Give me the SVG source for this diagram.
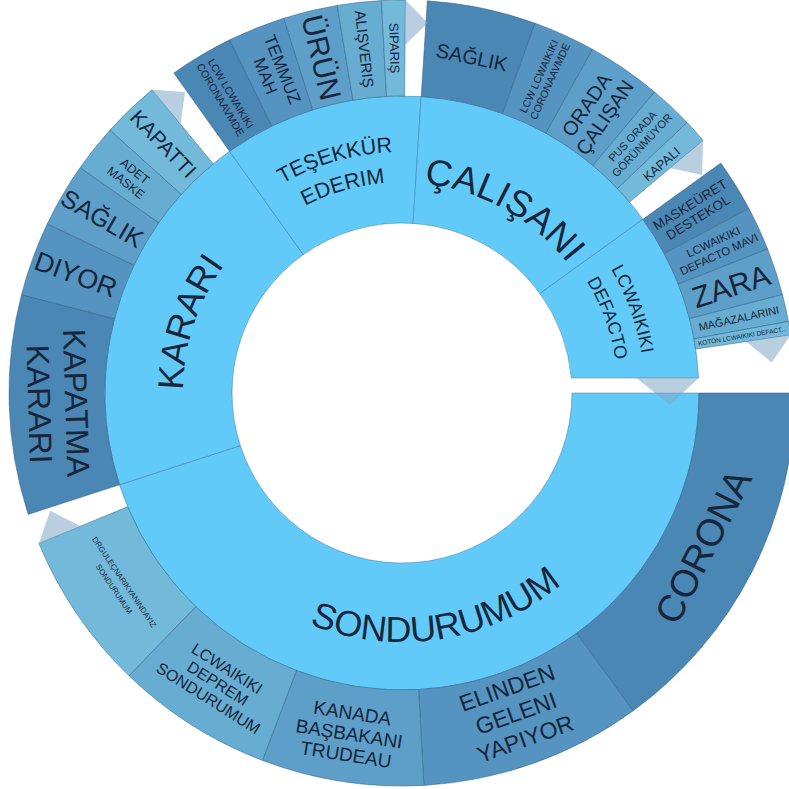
<svg xmlns="http://www.w3.org/2000/svg" width="789" height="789" viewBox="0 0 789 789">
<defs>
<style>
.in{fill:#62caf8;stroke:#2f6f99;stroke-opacity:.45;stroke-width:1}
.p1{fill:#4b87b4;stroke:#2f5f85;stroke-opacity:.5;stroke-width:1}
.p2{fill:#5593c0;stroke:#2f5f85;stroke-opacity:.5;stroke-width:1}
.p3{fill:#5d9fc8;stroke:#2f5f85;stroke-opacity:.5;stroke-width:1}
.p4{fill:#67acd1;stroke:#2f5f85;stroke-opacity:.5;stroke-width:1}
.p5{fill:#73b9da;stroke:#2f5f85;stroke-opacity:.5;stroke-width:1}
.tip{fill:#7fa7c6;fill-opacity:.55}
text{font-family:"Liberation Sans",Arial,sans-serif;fill:#17263a;text-anchor:middle}
</style>
<path id="aKarari" d="M 298.3,585.9 A 219 219 0 0 1 433.4,176.3"/>
<path id="aTes1" d="M 162.3,418.2 A 241 241 0 0 1 618.6,287.3"/>
<path id="aTes2" d="M 192.2,415 A 211 211 0 0 1 591.6,300.5"/>
<path id="aCal" d="M 238.8,260.8 A 210 210 0 0 1 600.6,461.4"/>
<path id="aLcw1" d="M 359.8,153.7 A 243 243 0 0 1 523.5,603.4"/>
<path id="aLcw2" d="M 364.5,180.3 A 216 216 0 0 1 510,580.1"/>
<path id="aSon" d="M 166.6,474.1 A 249 249 0 0 0 651,397.3"/>
</defs>
<rect width="789" height="789" fill="#ffffff"/>

<g id="sondurumum">
<path class="in" d="M 572,393 A 170 170 0 0 1 240.3,445.5 L 119.5,484.8 A 297 297 0 0 0 699,393 Z"/>
<text font-size="36"><textPath href="#aSon" startOffset="50%">SONDURUMUM</textPath></text>
</g>
<g id="karari">
<path class="in" d="M 240.3,445.5 A 170 170 0 0 1 303.3,254.6 L 229.5,151.2 A 297 297 0 0 0 119.5,484.8 Z"/>
<text font-size="36"><textPath href="#aKarari" startOffset="50%">KARARI</textPath></text>
</g>
<g id="tesekkur">
<path class="in" d="M 303.3,254.6 A 170 170 0 0 1 413,223.4 L 421.2,96.6 A 297 297 0 0 0 229.5,151.2 Z"/>
<text font-size="21.5"><textPath href="#aTes1" startOffset="50%">TEŞEKKÜR</textPath><textPath href="#aTes2" startOffset="50%">EDERIM</textPath></text>
</g>
<g id="calisani">
<path class="in" d="M 413,223.4 A 170 170 0 0 1 539.9,293.5 L 642.9,219.3 A 297 297 0 0 0 421.2,96.6 Z"/>
<text font-size="37"><textPath href="#aCal" startOffset="50%">ÇALIŞANI</textPath></text>
</g>
<g id="lcwaikiki-defacto">
<path class="in" d="M 539.9,293.5 A 170 170 0 0 1 571.3,378 L 698.6,378 A 297 297 0 0 0 642.9,219.3 Z"/>
<text font-size="18"><textPath href="#aLcw1" startOffset="50%">LCWAIKIKI</textPath><textPath href="#aLcw2" startOffset="50%">DEFACTO</textPath></text>
</g>

<!-- Sondurumum children -->
<g id="corona">
<path class="p1" d="M 699,393 A 297 297 0 0 1 576.6,633.3 L 633,710.9 A 393 393 0 0 0 795,393 Z"/>
<text font-size="38" transform="translate(703.2,546.5) rotate(-63)" y="13">CORONA</text>
</g>
<g id="elinden">
<path class="p2" d="M 576.6,633.3 A 297 297 0 0 1 418.6,689.5 L 423.9,785.4 A 393 393 0 0 0 633,710.9 Z"/>
<text font-size="23" transform="translate(516.1,713.3) rotate(-19.6)"><tspan x="0" y="-19">ELINDEN</tspan><tspan x="0" y="8">GELENI</tspan><tspan x="0" y="35">YAPIYOR</tspan></text>
</g>
<g id="kanada">
<path class="p3" d="M 418.6,689.5 A 297 297 0 0 1 296.5,670.6 L 262.4,760.4 A 393 393 0 0 0 423.9,785.4 Z"/>
<text font-size="19" transform="translate(349.2,733.9) rotate(8.8)"><tspan x="0" y="-14.5">KANADA</tspan><tspan x="0" y="6.5">BAŞBAKANI</tspan><tspan x="0" y="27.5">TRUDEAU</tspan></text>
</g>
<g id="lcw-deprem">
<path class="p4" d="M 296.5,670.6 A 297 297 0 0 1 195.7,606.6 L 129,675.7 A 393 393 0 0 0 262.4,760.4 Z"/>
<text font-size="16" transform="translate(217.7,683.4) rotate(32.4)"><tspan x="0" y="-12">LCWAIKIKI</tspan><tspan x="0" y="5.5">DEPREM</tspan><tspan x="0" y="23">SONDURUMUM</tspan></text>
</g>
<g id="drgulec">
<path class="p5" d="M 195.7,606.6 A 297 297 0 0 1 127.6,506.7 L 38.9,543.4 A 393 393 0 0 0 129,675.7 Z"/>
<text font-size="7.8" transform="translate(119.3,585.5) rotate(55.75)"><tspan x="0" y="-3.3">DRGULEÇNARIKYANINDAYIZ</tspan><tspan x="0" y="9">SONDURUMUM</tspan></text>
</g>

<!-- Karari children -->
<g id="kapatma-karari">
<path class="p1" d="M 119.5,484.8 A 297 297 0 0 1 114.5,318.6 L 21.5,294.6 A 393 393 0 0 0 28.2,514.4 Z"/>
<text font-size="32" transform="translate(58.2,403.5) rotate(88.25)"><tspan x="0" y="-7">KAPATMA</tspan><tspan x="0" y="30">KARARI</tspan></text>
</g>
<g id="diyor">
<path class="p2" d="M 114.5,318.6 A 297 297 0 0 1 133.9,265.1 L 47.3,223.8 A 393 393 0 0 0 21.5,294.6 Z"/>
<text font-size="27" transform="translate(75.9,274.3) rotate(20)" y="9.5">DIYOR</text>
</g>
<g id="saglik-1">
<path class="p3" d="M 133.9,265.1 A 297 297 0 0 1 158.7,222.6 L 80.1,167.6 A 393 393 0 0 0 47.3,223.8 Z"/>
<text font-size="25" transform="translate(102.3,218.2) rotate(30.25)" y="9">SAĞLIK</text>
</g>
<g id="adet-maske">
<path class="p4" d="M 158.7,222.6 A 297 297 0 0 1 181.3,194.3 L 110,130 A 393 393 0 0 0 80.1,167.6 Z"/>
<text font-size="12.5" transform="translate(130.4,177) rotate(38.5)"><tspan x="0" y="-3">ADET</tspan><tspan x="0" y="11.5">MASKE</tspan></text>
</g>
<g id="kapatti">
<path class="p5" d="M 181.3,194.3 A 297 297 0 0 1 213.1,163.8 L 152,89.8 A 393 393 0 0 0 110,130 Z"/>
<text font-size="21" transform="translate(163.4,143.8) rotate(46.25)" y="7.5">KAPATTI</text>
</g>

<!-- Tesekkur children -->
<g id="lcw-coronaavm-1">
<path class="p1" d="M 229.5,151.2 A 297 297 0 0 1 271.8,126.1 L 229.7,39.8 A 393 393 0 0 0 173.8,73.1 Z"/>
<text font-size="10.5" transform="translate(225.6,96.5) rotate(59.25)"><tspan x="0" y="-2.3">LCW LCWAIKIKI</tspan><tspan x="0" y="9.7">CORONAAVMDE</tspan></text>
</g>
<g id="temmuz-mah">
<path class="p2" d="M 271.8,126.1 A 297 297 0 0 1 312.7,109.8 L 283.8,18.2 A 393 393 0 0 0 229.7,39.8 Z"/>
<text font-size="17" transform="translate(274.1,72.6) rotate(68.25)"><tspan x="0" y="-3">TEMMUZ</tspan><tspan x="0" y="15">MAH</tspan></text>
</g>
<g id="urun">
<path class="p3" d="M 312.7,109.8 A 297 297 0 0 1 353,100.1 L 337.2,5.4 A 393 393 0 0 0 283.8,18.2 Z"/>
<text font-size="30" transform="translate(321.5,57.5) rotate(76.5)" y="10.5">ÜRÜN</text>
</g>
<g id="alisveris">
<path class="p4" d="M 353,100.1 A 297 297 0 0 1 386.5,96.4 L 381.4,0.6 A 393 393 0 0 0 337.2,5.4 Z"/>
<text font-size="15" transform="translate(364.3,49) rotate(83.75)" y="5.3">ALIŞVERIŞ</text>
</g>
<g id="siparis">
<path class="p5" d="M 386.5,96.4 A 297 297 0 0 1 404.6,96 L 405.4,0 A 393 393 0 0 0 381.4,0.6 Z"/>
<text font-size="13" transform="translate(394.5,48.1) rotate(88.75)" y="4.6">SIPARIŞ</text>
</g>

<!-- Calisani children -->
<g id="saglik-2">
<path class="p1" d="M 421.2,96.6 A 297 297 0 0 1 502.6,113.6 L 535.1,23.2 A 393 393 0 0 0 427.3,0.8 Z"/>
<text font-size="20" transform="translate(471.8,57.2) rotate(11.75)" y="7">SAĞLIK</text>
</g>
<g id="lcw-coronaavm-2">
<path class="p2" d="M 502.6,113.6 A 297 297 0 0 1 546,133.2 L 592.5,49.3 A 393 393 0 0 0 535.1,23.2 Z"/>
<text font-size="10.5" transform="translate(544.5,78.8) rotate(-65.6)"><tspan x="0" y="-2.3">LCW LCWAIKIKI</tspan><tspan x="0" y="9.7">CORONAAVMDE</tspan></text>
</g>
<g id="orada-calisan">
<path class="p3" d="M 546,133.2 A 297 297 0 0 1 592.9,165.5 L 654.6,92 A 393 393 0 0 0 592.5,49.3 Z"/>
<text font-size="20" transform="translate(595.7,111.2) rotate(-55.5)"><tspan x="0" y="-4">ORADA</tspan><tspan x="0" y="18">ÇALIŞAN</tspan></text>
</g>
<g id="pus-orada">
<path class="p4" d="M 592.9,165.5 A 297 297 0 0 1 617.4,188.5 L 687.1,122.5 A 393 393 0 0 0 654.6,92 Z"/>
<text font-size="11" transform="translate(637.3,140.7) rotate(-46.75)"><tspan x="0" y="-2.6">PUS ORADA</tspan><tspan x="0" y="10.4">GÖRÜNMÜYOR</tspan></text>
</g>
<g id="kapali">
<path class="p5" d="M 617.4,188.5 A 297 297 0 0 1 629.5,202.1 L 703,140.4 A 393 393 0 0 0 687.1,122.5 Z"/>
<text font-size="13" transform="translate(661.5,164) rotate(-41)" y="4.6">KAPALI</text>
</g>

<!-- LCWAIKIKI DEFACTO children -->
<g id="maskeuret">
<path class="p1" d="M 642.9,219.3 A 297 297 0 0 1 664.2,253.6 L 749,208.5 A 393 393 0 0 0 720.8,163.1 Z"/>
<text font-size="13.5" transform="translate(694.1,211.2) rotate(-31.9)"><tspan x="0" y="-3">MASKEÜRET</tspan><tspan x="0" y="12">DESTEKOL</tspan></text>
</g>
<g id="lcw-defacto-mavi">
<path class="p2" d="M 664.2,253.6 A 297 297 0 0 1 678.3,284.1 L 767.6,249 A 393 393 0 0 0 749,208.5 Z"/>
<text font-size="11.5" transform="translate(716.2,248.1) rotate(-24.75)"><tspan x="0" y="-2.8">LCWAIKIKI</tspan><tspan x="0" y="10.8">DEFACTO MAVI</tspan></text>
</g>
<g id="zara">
<path class="p3" d="M 678.3,284.1 A 297 297 0 0 1 689.5,318.6 L 782.5,294.6 A 393 393 0 0 0 767.6,249 Z"/>
<text font-size="30" transform="translate(731.1,286.1) rotate(-18)" y="10.5">ZARA</text>
</g>
<g id="magazalarini">
<path class="p4" d="M 689.5,318.6 A 297 297 0 0 1 694,338.9 L 788.4,321.4 A 393 393 0 0 0 782.5,294.6 Z"/>
<text font-size="11" transform="translate(738.8,318.3) rotate(-12.5)" y="3.9">MAĞAZALARINI</text>
</g>
<g id="koton">
<path class="p5" d="M 694,338.9 A 297 297 0 0 1 695.7,349.1 L 790.7,334.9 A 393 393 0 0 0 788.4,321.4 Z"/>
<text font-size="6.5" transform="translate(742.3,336.1) rotate(-9.5)" y="2.3">KOTON LCWAIKIKI DEFACT...</text>
</g>

<g id="connectors">
<polygon class="tip" points="80.5,526.2 38.9,543.4 50.2,510.7"/>
<polygon class="tip" points="180.6,124.5 152,89.8 185,92.1"/>
<polygon class="tip" points="405,45 405.4,0 427.9,22.9"/>
<polygon class="tip" points="670.1,168 703,140.4 702.1,174.9"/>
<polygon class="tip" points="746.2,341.6 790.7,334.9 771.7,362.6"/>
<polygon class="tip" points="636.5,378 698.6,378 670,405"/>
</g>
</svg>
